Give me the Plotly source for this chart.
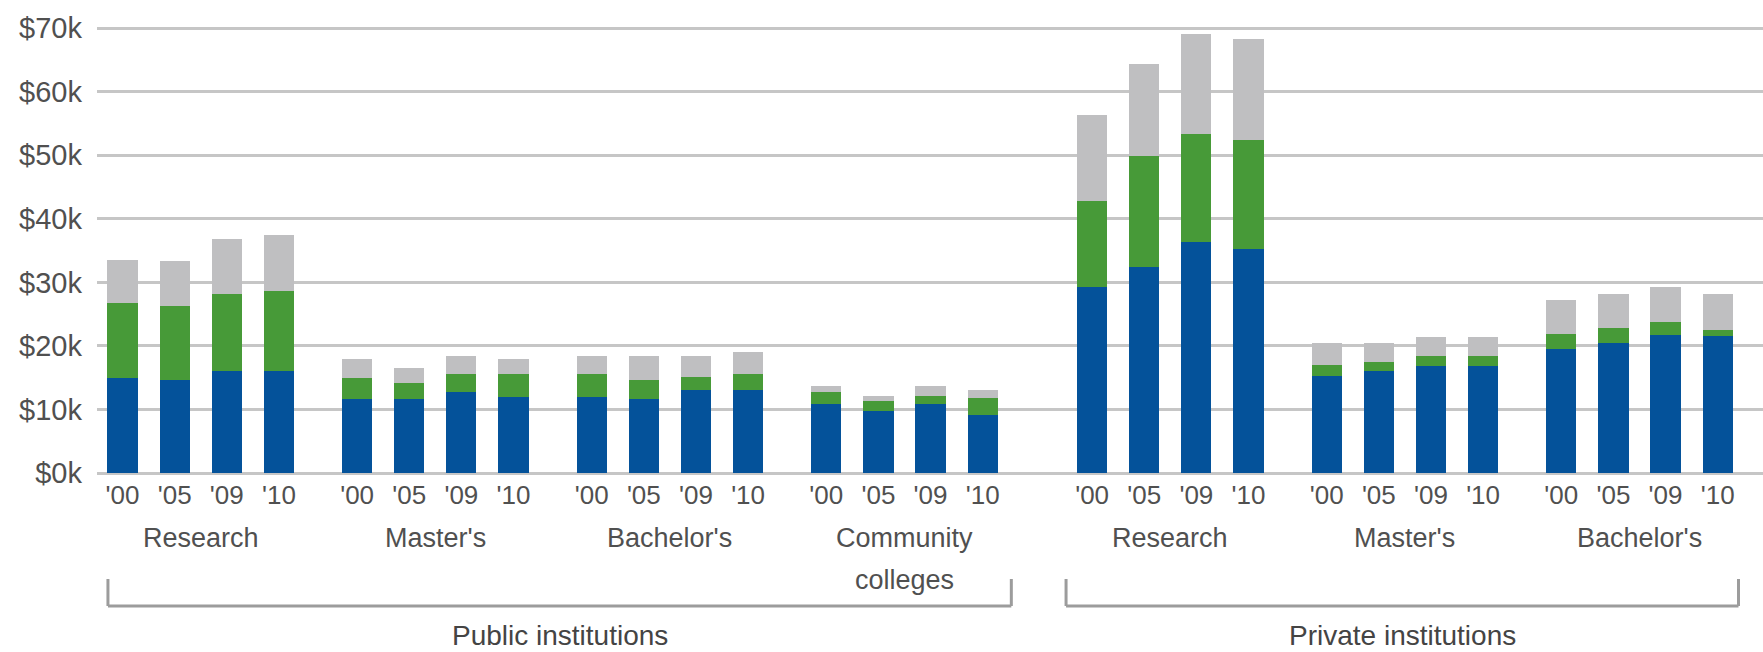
import plotly.graph_objects as go

# ---------------- data (values in $ thousands) ----------------
years = ["'00", "'05", "'09", "'10"]
sectors = ["Public institutions", "Private institutions"]
public_groups = ["Research", "Master's", "Bachelor's", "Community\ncolleges"]
private_groups = ["Research", "Master's", "Bachelor's"]

# bottom (blue) segment
blue_public = [15.0, 14.7, 16.1, 16.1,
               11.7, 11.7, 12.7, 12.0,
               12.0, 11.7, 13.0, 13.0,
               10.8, 9.7, 10.8, 9.2]
blue_private = [29.2, 32.5, 36.3, 35.3,
                15.2, 16.0, 16.9, 16.9,
                19.5, 20.4, 21.7, 21.5]
# middle (green) segment
green_public = [11.7, 11.6, 12.1, 12.5,
                3.2, 2.4, 2.9, 3.6,
                3.6, 3.0, 2.1, 2.6,
                1.9, 1.6, 1.3, 2.6]
green_private = [13.6, 17.4, 17.1, 17.1,
                 1.8, 1.5, 1.5, 1.5,
                 2.4, 2.4, 2.0, 1.0]
# top (gray) segment
gray_public = [6.8, 7.1, 8.6, 8.8,
               3.0, 2.4, 2.8, 2.3,
               2.8, 3.7, 3.3, 3.4,
               1.0, 0.8, 1.6, 1.3]
gray_private = [13.5, 14.5, 15.7, 15.9,
                3.5, 3.0, 3.0, 3.0,
                5.3, 5.4, 5.6, 5.7]

y_ticks = [0, 10, 20, 30, 40, 50, 60, 70]
y_ticktext = ["$%dk" % v for v in y_ticks]

# ---------------- layout constants ----------------
GROUP_STEP = 1.5     # distance from last bar of a group to first bar of next
SECTOR_STEP = 2.1    # distance between sectors
BAR_W = 0.58
C_BLUE = "#04529a"
C_GREEN = "#479a38"
C_GRAY = "#bfbfc1"
TXT = "#505050"
FONT = "Liberation Sans, Arial, sans-serif"

# compute x positions
sector_groups = [public_groups, private_groups]
xs, tickx, tickt = [], [], []
group_centers = []   # (center, label)
sector_spans = []    # (first_x, last_x)
cur = 0.0
for si, groups in enumerate(sector_groups):
    if si > 0:
        cur = xs[-1] + SECTOR_STEP
    s_first = cur
    for gi, g in enumerate(groups):
        if gi > 0:
            cur = xs[-1] + GROUP_STEP
        gx = [cur + i for i in range(len(years))]
        xs.extend(gx)
        tickx.extend(gx)
        tickt.extend(years)
        group_centers.append(((gx[0] + gx[-1]) / 2, g))
    sector_spans.append((s_first, xs[-1]))

blue = blue_public + blue_private
green = green_public + green_private
gray = gray_public + gray_private

fig = go.Figure()
for name, vals, col in [("Segment 1", blue, C_BLUE),
                        ("Segment 2", green, C_GREEN),
                        ("Segment 3", gray, C_GRAY)]:
    fig.add_trace(go.Bar(x=xs, y=vals, name=name, width=BAR_W,
                         marker=dict(color=col, line=dict(width=0)),
                         showlegend=False))

annotations = []
# group labels
for cx, label in group_centers:
    for li, line in enumerate(label.split("\n")):
        annotations.append(dict(x=cx, y=0, xref="x", yref="paper", text=line,
                                showarrow=False, yanchor="middle",
                                yshift=-65 - 42 * li,
                                font=dict(family=FONT, size=27, color=TXT)))

# brackets and sector labels
pads = [(0.28, 0.55), (0.5, 0.4)]
shapes = []
for (x0, x1), (pl, pr), name in zip(sector_spans, pads, sectors):
    a, b = x0 - pl, x1 + pr
    for xa, xb, ya, yb in [(a, a, -106, -133), (b, b, -106, -133), (a, b, -133, -133)]:
        shapes.append(dict(type="line", xref="x", yref="paper", ysizemode="pixel",
                           yanchor=0, x0=xa, x1=xb, y0=ya, y1=yb,
                           line=dict(color="#9c9c9c", width=3)))
    annotations.append(dict(x=(a + b) / 2, y=0, xref="x", yref="paper", text=name,
                            showarrow=False, yanchor="middle", yshift=-162,
                            font=dict(family=FONT, size=28, color="#444444")))

fig.update_layout(
    width=1763, height=652,
    margin=dict(l=97, r=0, t=27, b=179),
    barmode="stack",
    plot_bgcolor="white", paper_bgcolor="white",
    annotations=annotations, shapes=shapes,
    xaxis=dict(range=[-0.49, 31.47], tickvals=tickx, ticktext=tickt,
               showgrid=False, zeroline=False, showline=False, ticks="",
               tickfont=dict(family=FONT, size=26, color=TXT),
               ticklabelstandoff=4),
    yaxis=dict(range=[0, 70.2], tickvals=y_ticks, ticktext=y_ticktext,
               showgrid=True, gridcolor="#c6c6c6", gridwidth=2.5,
               zeroline=True, zerolinecolor="#c6c6c6", zerolinewidth=2.5,
               showline=False, ticks="",
               tickfont=dict(family=FONT, size=29, color=TXT),
               ticklabelstandoff=14),
    bargap=0,
)

fig.write_html("out.html")
